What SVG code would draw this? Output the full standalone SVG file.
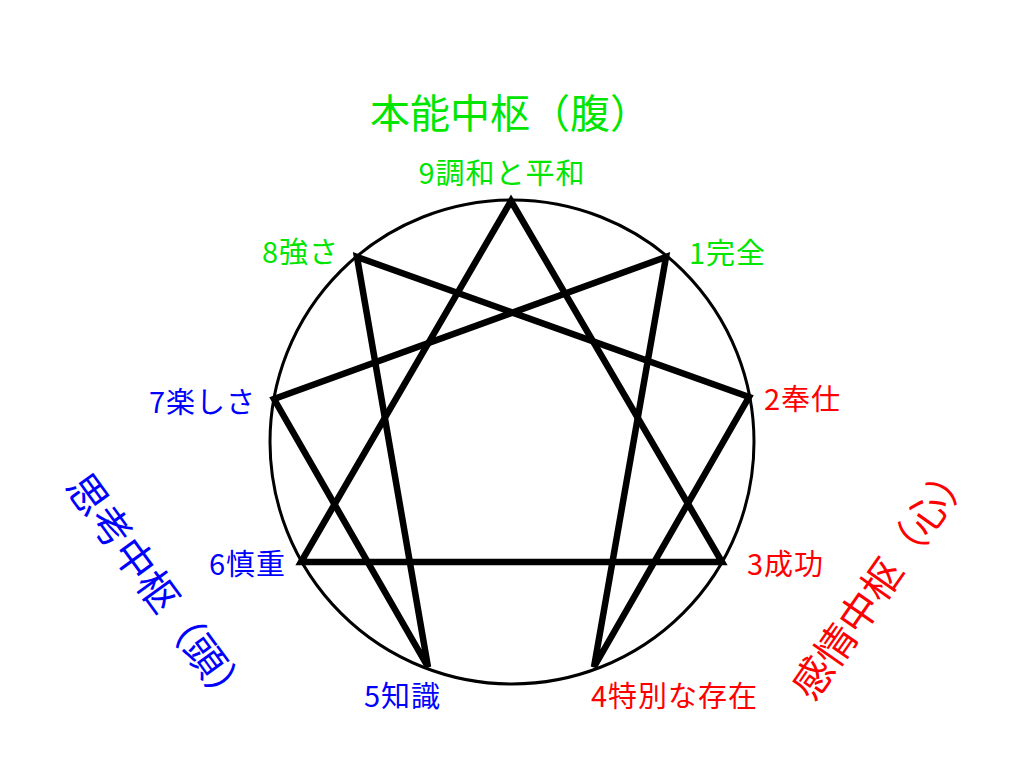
<svg xmlns="http://www.w3.org/2000/svg" width="1024" height="768" viewBox="0 0 1024 768">
<style>
text{font-family:"Noto Sans CJK JP","Liberation Sans",sans-serif;}
.g{fill:#00e600}.b{fill:#0000ff}.r{fill:#ff0000}
.lbl{font-size:29px;letter-spacing:1px}
.ttl{font-size:40px}
.star{fill:none;stroke:#000;stroke-width:6.5;stroke-linejoin:miter}
</style>
<rect width="1024" height="768" fill="#fff"/>
<g id="circle"><circle cx="512" cy="442" r="242" fill="none" stroke="#000" stroke-width="3"/></g>
<g id="connectors">
<polygon class="star" points="511,201 722,562 301,562"/>
<polygon class="star" points="666,257 594,667 749,397 357,257 428,667 274,399"/>
</g>
<g id="title-gut"><text class="ttl g" x="510" y="128" text-anchor="middle">本能中枢（腹）</text></g>
<g id="title-head"><text class="ttl b" transform="translate(160,590) rotate(54)" text-anchor="middle" dominant-baseline="central">思考中枢（頭）</text></g>
<g id="title-heart"><text class="ttl r" transform="translate(880,578) rotate(-55)" text-anchor="middle" dominant-baseline="central">感情中枢（心）</text></g>
<g id="n9"><text class="lbl g" x="502" y="184" text-anchor="middle">9調和と平和</text></g>
<g id="n1"><text class="lbl g" x="689" y="264">1完全</text></g>
<g id="n8"><text class="lbl g" x="339" y="263" text-anchor="end">8強さ</text></g>
<g id="n2"><text class="lbl r" x="764" y="410">2奉仕</text></g>
<g id="n7"><text class="lbl b" x="256" y="413" text-anchor="end">7楽しさ</text></g>
<g id="n3"><text class="lbl r" x="747" y="575">3成功</text></g>
<g id="n6"><text class="lbl b" x="286" y="575" text-anchor="end">6慎重</text></g>
<g id="n4"><text class="lbl r" x="591" y="707">4特別な存在</text></g>
<g id="n5"><text class="lbl b" x="441" y="707" text-anchor="end">5知識</text></g>
</svg>
